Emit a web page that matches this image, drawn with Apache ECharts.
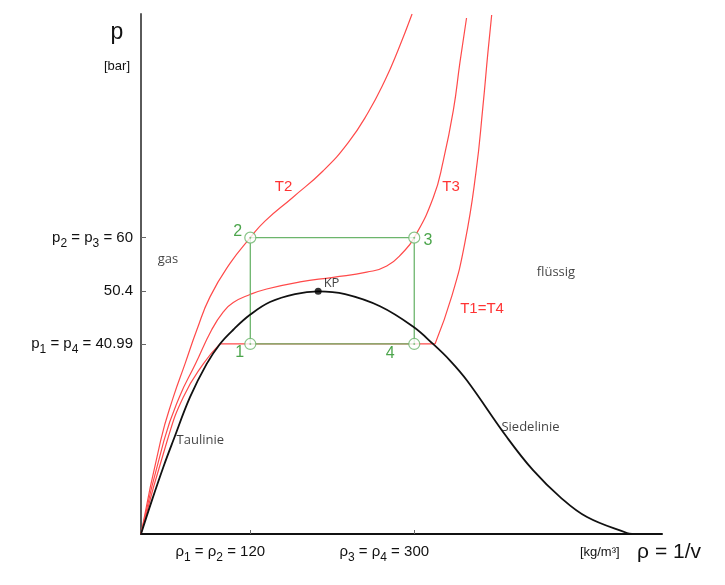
<!DOCTYPE html>
<html><head><meta charset="utf-8">
<script src="https://cdn.jsdelivr.net/npm/echarts@6/dist/echarts.min.js"></script>
<style>html,body{margin:0;padding:0;background:#fff}#c{width:725px;height:585px}</style>
</head><body><div id="c"></div>
<script>
// ---- data ----
const rhoTicks = [120, 300];
const rhoTickSubs = [['1', '2'], ['3', '4']];
const pTicks = [40.99, 50.4, 60];
const pTickSubs = [['1', '4'], null, ['2', '3']];

const isoT2 = [[0,7],[21.63,23.76],[35.46,31.47],[48.31,37.43],[61.15,43.43],[75.76,49.41],[97.72,55.39],[120,60],[136.1,62.96],[166.9,67.24],[199.8,71.93],[227.3,76.96],[249.2,82.34],[267.9,88.15],[282.2,93.52],[297.6,100]];
const isoT3 = [[0,7],[25.25,23.76],[42.05,31.47],[59.84,37.43],[77.62,43.53],[90.36,46.72],[101.3,48.4],[119.7,49.83],[138,50.82],[174.6,52.08],[211.1,52.91],[247.8,53.83],[269.8,54.92],[288,57.44],[300,60],[320.9,67.18],[331.9,73.78],[342.9,82.76],[350.2,91.38],[357.4,99.28]];
const isoT1Gas = [[0,7],[28.9,23.76],[46.4,31.47],[68.4,37.43],[86.7,40.99]];
const isoT1Flat = [[86.7,40.99],[322.8,40.99]];
const isoT1Liquid = [[322.8,40.99],[341.4,49.64],[355.6,59.11],[367.7,71.62],[375.4,83.48],[380.9,93.18],[385,99.82]];
const dome = [[0,7],[12.08,13.06],[25.25,19.3],[35.5,23.76],[53.8,31.47],[72.1,37.43],[86.7,40.99],[101.3,43.53],[119.7,46.2],[141.6,48.49],[169.1,49.92],[194.5,50.4],[224,49.9],[262.4,47.73],[298.6,44.1],[320.6,40.99],[339.3,38.02],[357.9,34.45],[401.8,24.29],[430.4,18.41],[460.2,13.6],[489.7,10.03],[533.6,7.18],[539.1,7]];
const criticalPoint = [194.5, 50.4];
const cyclePoints = [[120,40.99],[120,60],[300,60],[300,40.99]];
const cycleNames = ['1', '2', '3', '4'];
const regionNames = ['gas', 'flüssig', 'Taulinie', 'Siedelinie'];
const regionAt = [[29.6,56.1],[455.6,53.75],[65.1,23.67],[427.6,26.13]];
const isoNames = ['T2', 'T3', 'T1=T4'];
const isoAt = [[156.5,69.1],[340.4,69.1],[374.4,47.35]];

// ---- styles ----
const AX = 'Liberation Sans, Arial, sans-serif';
const TX = 'Open Sans, sans-serif';
const RED = '#ff4a4a';
const GREEN_LINE = '#6cb56c';
const GREEN_TXT = '#1f8f1f';
const cycleOffsets = [[-10.5, 9], [-12.7, -6], [13.7, 3.3], [-24, 9.5]];

function subLabel(base, subs, val) {
  if (!subs) return '{m|' + val + '}';
  return '{m|' + base + '}{s|' + subs[0] + '}{m| = ' + base + '}{s|' + subs[1] + '}{m| = ' + val + '}';
}
const labelRich = {
  m: {fontSize: 15, fontFamily: AX, color: '#111'},
  s: {fontSize: 12, fontFamily: AX, color: '#111', padding: [12, 0, 0, 0]}
};

const redLine = (data) => ({
  type: 'line', data, smooth: 0.5, symbol: 'none', z: 2,
  lineStyle: {color: RED, width: 1.2}, silent: true
});

const chart = echarts.init(document.getElementById('c'));
chart.setOption({
  animation: false,
  backgroundColor: '#fff',
  grid: {left: 141, right: 63, top: 14, bottom: 51, containLabel: false, outerBoundsMode: 'none'},
  xAxis: {
    type: 'value', min: 0, max: 572,
    splitLine: {show: false},
    axisLine: {show: true, lineStyle: {color: '#111', width: 2}},
    axisTick: {show: true, inside: true, length: 4, customValues: rhoTicks, lineStyle: {color: '#666', width: 1}},
    axisLabel: {
      show: true, customValues: rhoTicks, margin: 6, padding: [0, 60, 0, 0],
      formatter: (v) => { const i = rhoTicks.indexOf(v); return subLabel('ρ', rhoTickSubs[i], v); },
      rich: labelRich
    },
    name: '{u|[kg/m³]}{r|   ρ = 1/v}',
    nameLocation: 'end', nameGap: 39,
    nameTextStyle: {
      align: 'right', verticalAlign: 'top', padding: [8, 0, 0, 0],
      rich: {u: {fontSize: 13, fontFamily: AX, color: '#111'}, r: {fontSize: 21, fontFamily: AX, color: '#111'}}
    }
  },
  yAxis: {
    type: 'value', min: 7, max: 100,
    splitLine: {show: false},
    axisLine: {show: true, lineStyle: {color: '#5a5a5a', width: 2}},
    axisTick: {show: true, inside: true, length: 5, customValues: pTicks, lineStyle: {color: '#666', width: 1}},
    axisLabel: {
      show: true, customValues: pTicks, margin: 8,
      formatter: (v) => { const i = pTicks.indexOf(v); return subLabel('p', pTickSubs[i], v); },
      rich: labelRich
    },
    name: '{p|p}\n{b|[bar]}',
    nameLocation: 'end', nameGap: -4,
    nameTextStyle: {
      align: 'center', verticalAlign: 'top', padding: [0, 48, 0, 0],
      rich: {p: {fontSize: 23, lineHeight: 30, fontFamily: AX, color: '#111'}, b: {fontSize: 13, lineHeight: 36, fontFamily: AX, color: '#111'}}
    }
  },
  series: [
    Object.assign(redLine(isoT2), {name: 'T2'}),
    Object.assign(redLine(isoT3), {name: 'T3'}),
    Object.assign(redLine(isoT1Gas), {name: 'T1=T4'}),
    Object.assign(redLine(isoT1Flat), {name: 'T1=T4', smooth: false}),
    Object.assign(redLine(isoT1Liquid), {name: 'T1=T4'}),
    {
      type: 'line', name: 'Kreisprozess', data: cyclePoints.concat([cyclePoints[0]]),
      symbol: 'none', z: 3, lineStyle: {color: GREEN_LINE, width: 1.3}, silent: true
    },
    {
      type: 'line', name: 'Tau-/Siedelinie', data: dome, smooth: 0.4,
      symbol: 'none', z: 4, lineStyle: {color: '#111', width: 1.8}, silent: true
    },
    {
      type: 'scatter', z: 6, symbol: 'circle', symbolSize: 11,
      itemStyle: {color: '#fff', borderColor: GREEN_LINE, borderWidth: 1.2},
      data: cyclePoints.map((p, i) => ({
        value: p,
        label: {show: true, position: 'inside', offset: cycleOffsets[i], formatter: cycleNames[i],
          fontSize: 16, fontFamily: AX, color: GREEN_TXT}
      }))
    },
    {
      type: 'scatter', z: 7, symbol: 'circle', symbolSize: 2,
      itemStyle: {color: GREEN_LINE}, data: cyclePoints
    },
    {
      type: 'scatter', z: 7, symbol: 'circle', symbolSize: 7,
      itemStyle: {color: '#000'}, data: [criticalPoint],
      label: {show: true, position: 'right', distance: 2, offset: [0, -8], formatter: 'KP',
        fontSize: 13, fontFamily: TX, color: '#111'}
    },
    {
      type: 'scatter', z: 8, symbolSize: 0,
      data: regionAt.map((p, i) => ({value: p, name: regionNames[i]})),
      label: {show: true, position: 'inside', formatter: '{b}', fontSize: 13, fontFamily: TX, color: '#111'}
    },
    {
      type: 'scatter', z: 8, symbolSize: 0,
      data: isoAt.map((p, i) => ({value: p, name: isoNames[i]})),
      label: {show: true, position: 'inside', formatter: '{b}', fontSize: 15, fontFamily: AX, color: '#ff0000'}
    }
  ]
});
</script></body></html>
